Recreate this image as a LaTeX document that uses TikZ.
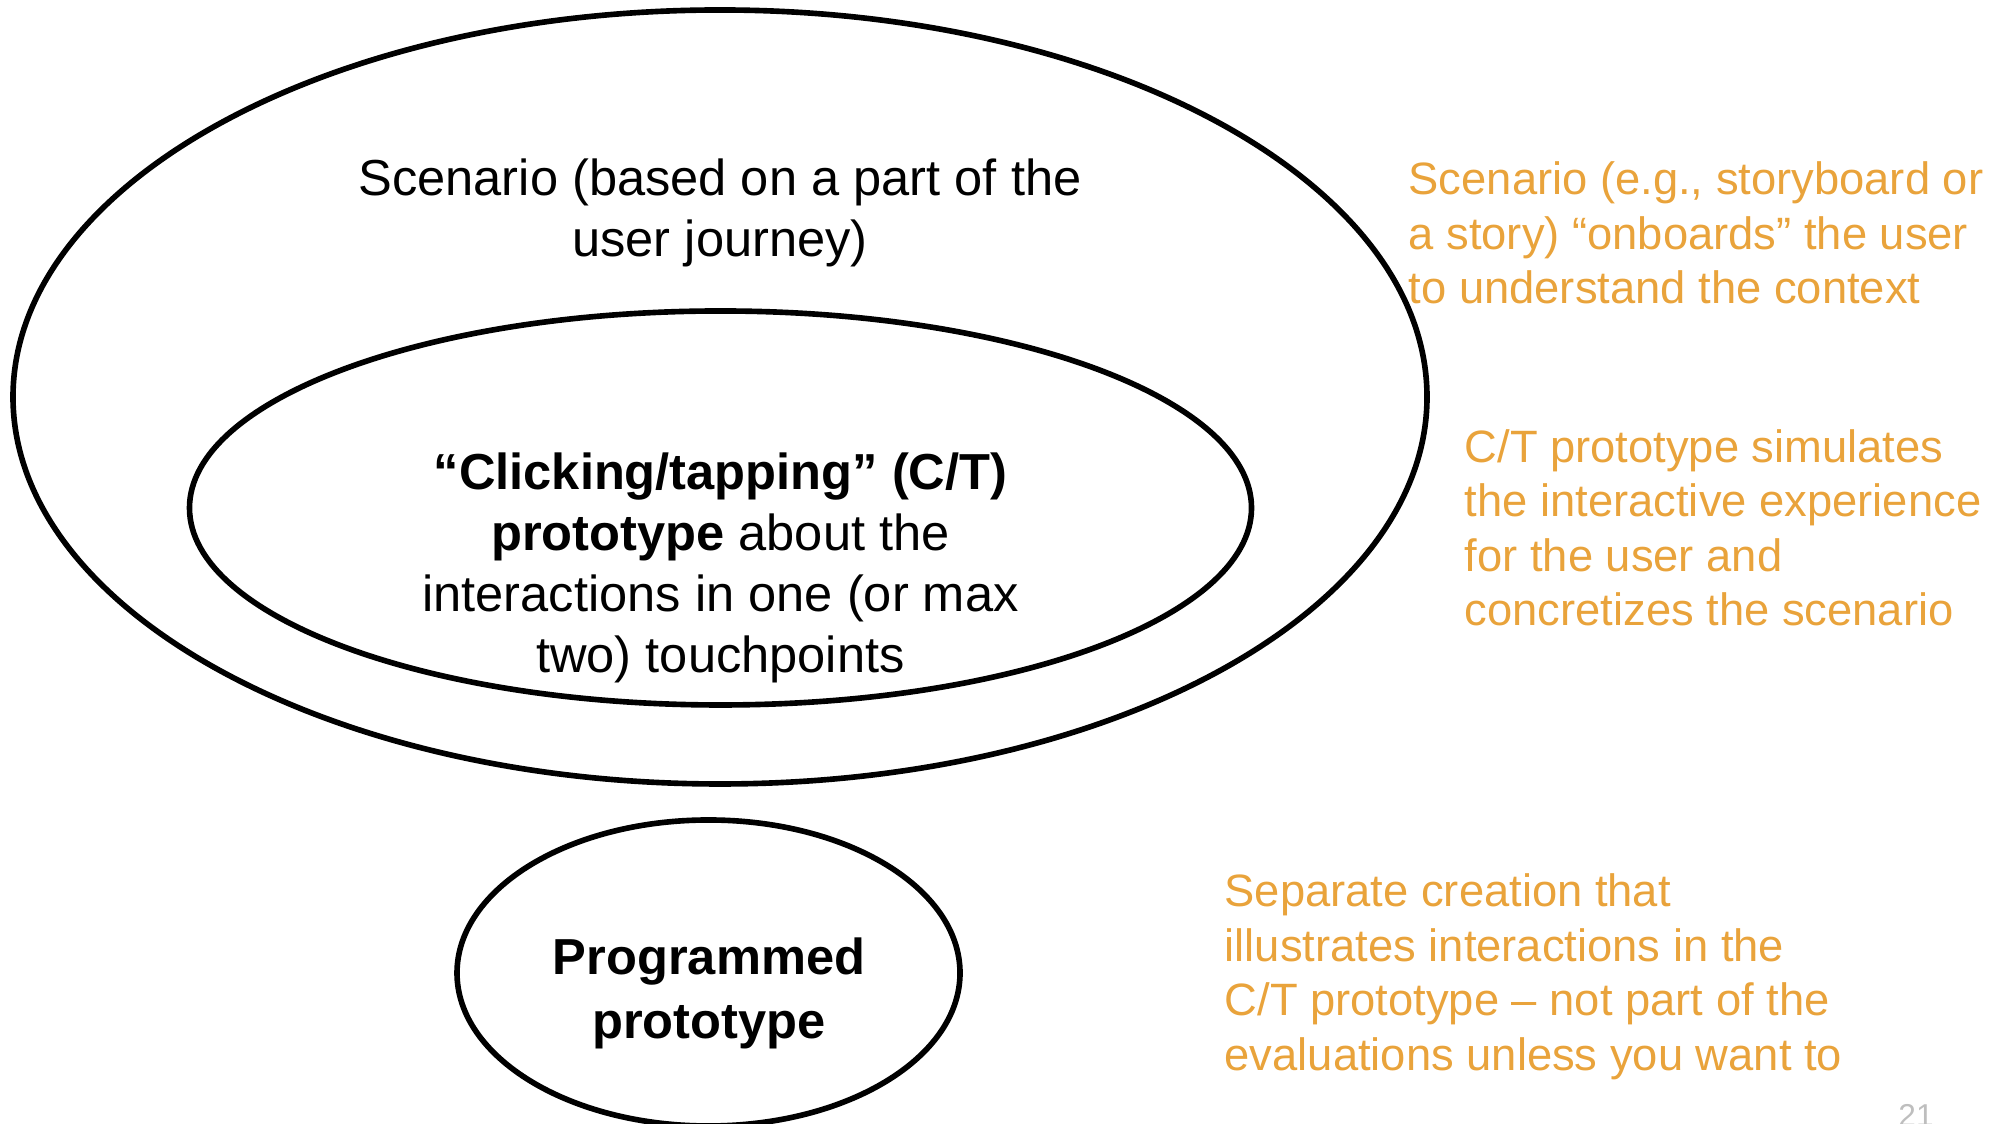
\documentclass[tikz,border=0pt]{standalone}
\usepackage{fontspec}
\setmainfont{Liberation Sans}
\usetikzlibrary{shapes.geometric}
\definecolor{noteorange}{RGB}{233,163,59}
\definecolor{pagegray}{RGB}{190,190,190}
\tikzset{
  ring/.style={draw,ellipse,line width=1.6pt,inner sep=0pt},
  main/.style={align=center,inner sep=0pt,font=\fontsize{14.4}{17.4}\selectfont},
  note/.style={align=left,anchor=west,inner sep=0pt,text=noteorange,font=\fontsize{12.9}{15.5}\selectfont}
}
\begin{document}
\begin{tikzpicture}
\useasboundingbox (0,0) rectangle (20.07,11.24);
\node[ring,minimum width=14.14cm,minimum height=7.74cm] (scen) at (7.20,7.27) {};
\node[ring,minimum width=10.62cm,minimum height=3.94cm] (ct) at (7.205,6.16) {};
\node[ring,minimum width=5.03cm,minimum height=3.06cm] (prog) at (7.085,1.51) {};

\node[main] (scentext) at (7.20,9.11) {Scenario (based on a part of the\\user journey)};
\node[main] (cttext) at (7.205,5.56) {\textbf{“Clicking/tapping” (C/T)}\\\textbf{prototype} about the\\interactions in one (or max\\two) touchpoints};
\node[main,font=\bfseries\fontsize{14.4}{18.2}\selectfont] (progtext) at (7.09,1.31) {Programmed\\prototype};

\node[note] (scennote) at (14.08,8.91) {Scenario (e.g., storyboard or\\a story) “onboards” the user\\to understand the context};
\node[note] (ctnote) at (14.64,5.96) {C/T prototype simulates\\the interactive experience\\for the user and\\concretizes the scenario};
\node[note] (prognote) at (12.24,1.47) {Separate creation that\\illustrates interactions in the\\C/T prototype -- not part of the\\evaluations unless you want to};

\node[anchor=base,inner sep=0pt,text=pagegray,font=\fontsize{9}{10}\selectfont] (page) at (19.16,-0.03) {21};
\end{tikzpicture}
\end{document}
